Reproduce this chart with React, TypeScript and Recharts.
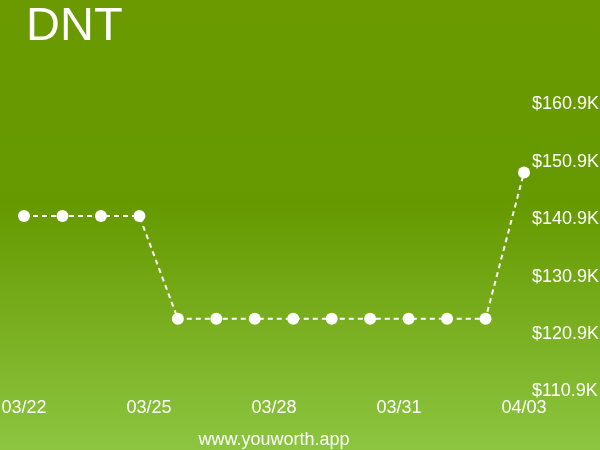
import { LineChart, Line, XAxis, YAxis } from 'recharts';

const values = [141.2, 141.2, 141.2, 141.2, 123.3, 123.3, 123.3, 123.3, 123.3, 123.3, 123.3, 123.3, 123.3, 148.8];
const dateTicks = [0, 3.25, 6.5, 9.75, 13];
const dateLabels = ['03/22', '03/25', '03/28', '03/31', '04/03'];
const valueTicks = [110.9, 120.9, 130.9, 140.9, 150.9, 160.9];

const data = values.map((v, i) => ({ i, v }));

export default function App() {
  return (
    <div
      style={{
        position: 'fixed',
        left: 0,
        top: 0,
        width: 600,
        height: 450,
        background: 'linear-gradient(to bottom, #6a9a00 0%, #669900 45%, #8cc540 100%)',
        fontFamily: '"Liberation Sans", Arial, sans-serif',
      }}
    >
      <div style={{ position: 'absolute', left: 26, top: 0, fontSize: 47, lineHeight: '47px', color: '#fff' }}>
        DNT
      </div>
      <LineChart width={600} height={450} data={data} margin={{ top: 103, right: 0, bottom: 30, left: 24 }}>
        <XAxis
          dataKey="i"
          type="number"
          domain={[0, 13]}
          ticks={dateTicks}
          interval={0}
          tickFormatter={(v) => dateLabels[dateTicks.indexOf(v)] ?? ''}
          axisLine={false}
          tickLine={false}
          tickMargin={4}
          height={30}
          tick={{ fill: '#fff', fontSize: 18 }}
        />
        <YAxis
          orientation="right"
          type="number"
          domain={[110.9, 160.9]}
          ticks={valueTicks}
          interval={0}
          tickFormatter={(v) => `$${Number(v).toFixed(1)}K`}
          axisLine={false}
          tickLine={false}
          width={76}
          tick={{ fill: '#fff', fontSize: 18, textAnchor: 'start' }}
        />
        <Line
          dataKey="v"
          type="linear"
          stroke="#fff"
          strokeWidth={2}
          strokeDasharray="5 4"
          dot={{ r: 6, fill: '#fff', stroke: '#fff', strokeWidth: 0 }}
          isAnimationActive={false}
        />
      </LineChart>
      <div
        style={{
          position: 'absolute',
          left: 0,
          width: 548,
          top: 430,
          textAlign: 'center',
          fontSize: 18,
          lineHeight: '18px',
          color: '#fff',
        }}
      >
        www.youworth.app
      </div>
    </div>
  );
}
